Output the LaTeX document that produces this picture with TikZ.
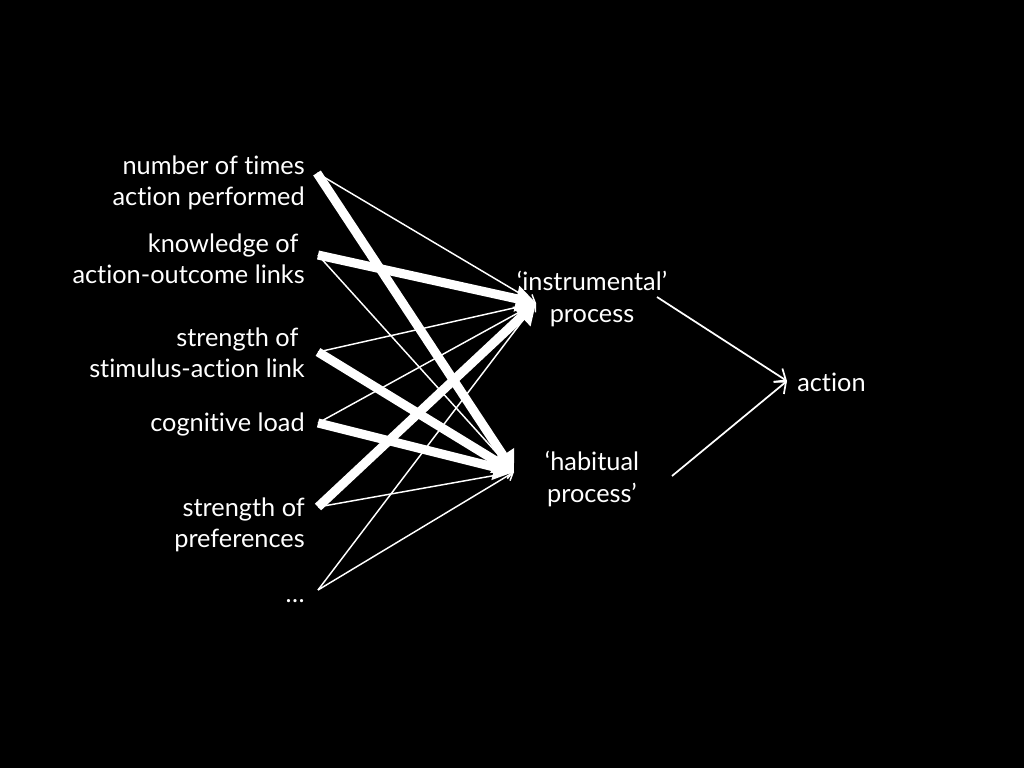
\documentclass[tikz,border=0pt]{standalone}
\usepackage{fontspec}
\setmainfont{Lato}[Ligatures={NoCommon}]
\usetikzlibrary{arrows.meta}
\begin{document}
\begin{tikzpicture}[x=0.75pt,y=-0.75pt,
  lbl/.style={text=white,font=\fontsize{19}{23.3}\selectfont,align=right,anchor=east,inner sep=0pt},
  mid/.style={text=white,font=\fontsize{19}{23.3}\selectfont,align=center,inner sep=0pt},
  weaklink/.style={draw=white,line width=1.1pt,-{Straight Barb[length=5pt,width=8pt]}},
  stronglink/.style={draw=white,line width=6.8pt,-{Triangle[length=15pt,width=19pt]}},
  outlink/.style={draw=white,line width=1.3pt,-{Straight Barb[length=7pt,width=12pt]}}]
\fill[black] (0,0) rectangle (1024,768);
\useasboundingbox (0,0) rectangle (1024,768);
% labels
\node[lbl] (l1) at (305,183) {number of times\\action performed};
\node[lbl] (l2) at (305,259) {knowledge of\hspace*{0.25em}\\action-outcome links};
\node[lbl] (l3) at (305,353) {strength of\hspace*{0.25em}\\stimulus-action link};
\node[lbl] (l4) at (305,424) {cognitive load};
\node[lbl] (l5) at (305,525) {strength of\\preferences};
\node[lbl] (l6) at (305,601) {\dots};
\node[mid] (ins) at (592,299) {‘instrumental’\\process};
\node[mid] (hab) at (592,479) {‘habitual\\process’};
\node[text=white,font=\fontsize{19}{23.3}\selectfont,anchor=west,inner sep=0pt] (act) at (797,382) {action};
% endpoints
\coordinate (s1) at (317,173);
\coordinate (s2) at (318,255);
\coordinate (s3) at (318,352);
\coordinate (s4) at (318,423);
\coordinate (s5) at (318,507);
\coordinate (s6) at (318,590);
\coordinate (ti) at (536,303);
\coordinate (th) at (514,472);
\coordinate (oi) at (657,297);
\coordinate (oh) at (672,476);
\coordinate (ta) at (787,381);
% thin
\draw[weaklink] (s1) -- (ti);
\draw[weaklink] (s2) -- (th);
\draw[weaklink] (s3) -- (ti);
\draw[weaklink] (s4) -- (ti);
\draw[weaklink] (s5) -- (th);
\draw[weaklink] (s6) -- (ti);
\draw[weaklink] (s6) -- (th);
% thick
\draw[stronglink] (s1) -- (th);
\draw[stronglink] (s2) -- (ti);
\draw[stronglink] (s3) -- (th);
\draw[stronglink] (s4) -- (th);
\draw[stronglink] (s5) -- (ti);
% outputs
\draw[outlink] (oi) -- (ta);
\draw[outlink] (oh) -- (ta);
\end{tikzpicture}
\end{document}
